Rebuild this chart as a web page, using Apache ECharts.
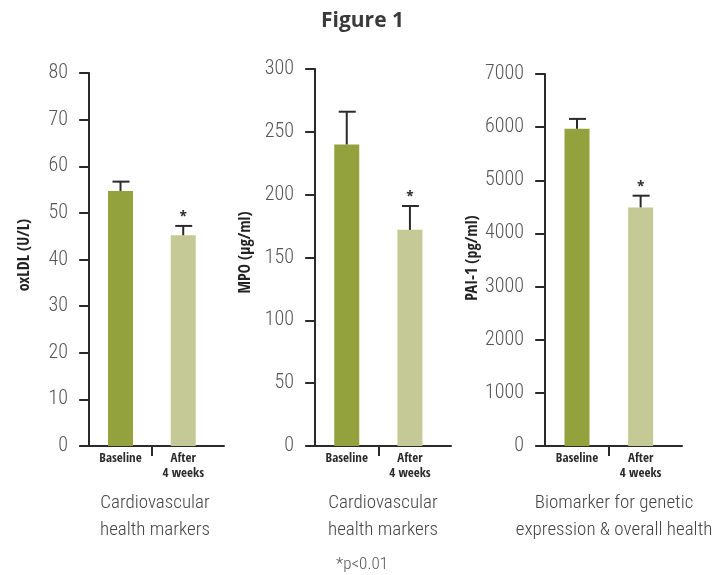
<!DOCTYPE html>
<html>
<head>
    <meta charset="utf-8">
    <title>Figure 1</title>
    <script src="https://cdn.jsdelivr.net/npm/echarts@6/dist/echarts.min.js"></script>
</head>
<body style="margin:0">
<div id="main" style="width: 725px;height:575px;"></div>
<script type="text/javascript">
    // data
    var categories = ['Baseline', 'After\n4 weeks'];
    var oxldlMean = [54.7, 45.2];
    var oxldlUpper = [56.7, 47.2];
    var mpoMean = [240, 172];
    var mpoUpper = [266, 191];
    var pai1Mean = [5970, 4490];
    var pai1Upper = [6155, 4710];
    var sigMarks = ['', '*'];

    var yNames = ['oxLDL (U/L)', 'MPO (\u00b5g/ml)', 'PAI-1 (pg/ml)'];
    var yMax = [80, 300, 7000];
    var yStep = [10, 50, 1000];
    var panelTitles = ['Cardiovascular\nhealth markers', 'Cardiovascular\nhealth markers', 'Biomarker for genetic\nexpression & overall health'];
    var footnote = '*p<0.01';

    var barColors = ['#93a23d', '#c4c995'];
    var lightFont = "'Roboto Condensed', sans-serif";
    var boldFont = "'Open Sans Condensed', sans-serif";
    var ink = '#2a2a2a';

    var means = [oxldlMean, mpoMean, pai1Mean];
    var uppers = [oxldlUpper, mpoUpper, pai1Upper];

    // panel frames
    var grids = [
        {left: 86, top: 73, width: 138, height: 373},
        {left: 312, top: 69, width: 139, height: 377},
        {left: 542, top: 74, width: 140, height: 372}
    ];
    var nameGaps = [53, 58, 59];
    var namePad = [[0, 0, 0, 9], [0, 0, 0, 10], [0, 0, 0, 4]];
    var titleX = [155, 383, 614];

    function renderErr(params, api) {
        var p0 = api.coord([api.value(0), api.value(1)]);
        var p1 = api.coord([api.value(0), api.value(2)]);
        var st = {stroke: ink, lineWidth: 2};
        var kids = [
            {type: 'line', shape: {x1: p0[0], y1: p0[1], x2: p1[0], y2: p1[1]}, style: st},
            {type: 'line', shape: {x1: p1[0] - 8, y1: p1[1], x2: p1[0] + 9, y2: p1[1]}, style: st}
        ];
        var m = sigMarks[params.dataIndex];
        if (m) {
            kids.push({type: 'text', style: {text: m, x: p1[0], y: p1[1] - 8, align: 'center', verticalAlign: 'middle',
                fontSize: 16, fontFamily: boldFont, fontWeight: 'bold', fill: '#333'}});
        }
        return {type: 'group', children: kids};
    }

    var xAxes = [], yAxes = [], series = [];
    for (var i = 0; i < 3; i++) {
        // bars sit on a value axis so the line can run past them like the original
        xAxes.push({
            type: 'value', gridIndex: i, min: -0.05, max: 2.15,
            axisLine: {show: true, onZero: false, lineStyle: {color: ink, width: 2}},
            axisTick: {show: true, length: 10, lineStyle: {color: ink, width: 2}, customValues: [1]},
            axisLabel: {show: true, color: ink, fontFamily: boldFont, fontWeight: 'bold', fontSize: 13, lineHeight: 15,
                margin: 5, customValues: [0.5, 1.5],
                formatter: function (v) { return categories[Math.round(v - 0.5)]; }},
            splitLine: {show: false}
        });
        yAxes.push({
            type: 'value', gridIndex: i, min: 0, max: yMax[i], interval: yStep[i],
            name: yNames[i], nameLocation: 'middle', nameGap: nameGaps[i],
            nameTextStyle: {color: '#222', fontFamily: boldFont, fontWeight: 'bold', fontSize: 16, padding: namePad[i]},
            axisLine: {show: true, lineStyle: {color: ink, width: 2}},
            axisTick: {show: true, length: 10, lineStyle: {color: ink, width: 2}},
            axisLabel: {color: '#555', fontFamily: lightFont, fontWeight: 300, fontSize: 20, margin: 18,
                formatter: function (v) { return String(v); }},
            splitLine: {show: false}
        });
        var barData = [], errData = [];
        for (var j = 0; j < categories.length; j++) {
            barData.push({value: [j + 0.5, means[i][j]], itemStyle: {color: barColors[j]}});
            errData.push([j + 0.5, means[i][j], uppers[i][j]]);
        }
        series.push({
            type: 'bar', xAxisIndex: i, yAxisIndex: i, barWidth: 25, data: barData
        });
        series.push({
            type: 'custom', xAxisIndex: i, yAxisIndex: i, renderItem: renderErr,
            encode: {x: 0, y: [1, 2]}, data: errData, z: 3
        });
    }

    var titles = [{
        text: 'Figure 1', left: 'center', top: 6,
        textStyle: {color: '#3a3a3a', fontFamily: "'Open Sans', sans-serif", fontWeight: 'bold', fontSize: 21}
    }];
    for (var k = 0; k < 3; k++) {
        titles.push({
            text: panelTitles[k], left: titleX[k], top: 490, textAlign: 'center', padding: 0,
            textStyle: {color: '#444', fontFamily: lightFont, fontWeight: 300, fontSize: 19, lineHeight: 27}
        });
    }
    titles.push({
        text: footnote, left: 362, top: 556, textAlign: 'center', padding: 0,
        textStyle: {color: '#555', fontFamily: lightFont, fontWeight: 300, fontSize: 17}
    });

    var myChart = echarts.init(document.getElementById('main'));
    myChart.setOption({
        animation: false,
        backgroundColor: '#fff',
        title: titles,
        grid: grids,
        xAxis: xAxes,
        yAxis: yAxes,
        series: series
    });
</script>
</body>
</html>
